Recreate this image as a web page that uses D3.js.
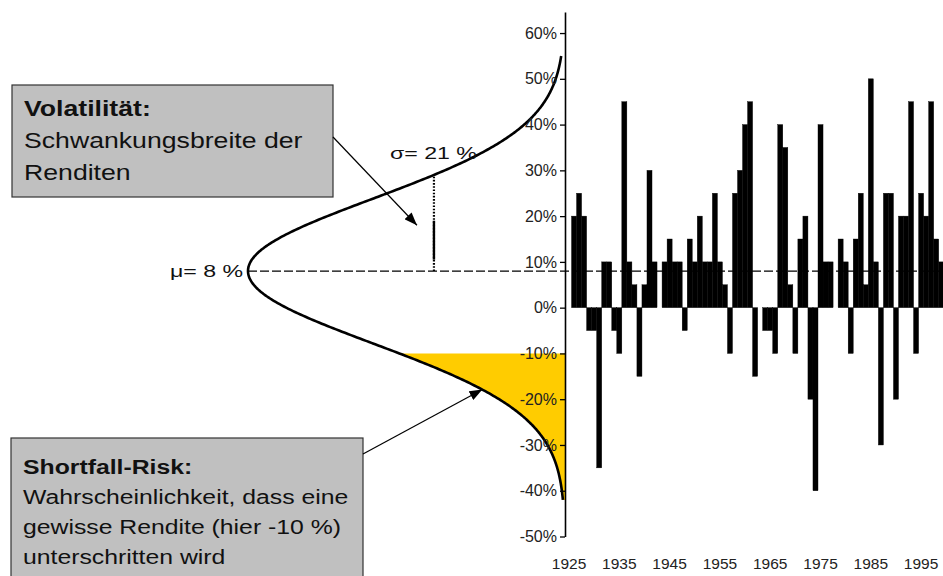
<!DOCTYPE html>
<html><head><meta charset="utf-8">
<script src="https://cdn.jsdelivr.net/npm/d3@7"></script>
<style>html,body{margin:0;padding:0;background:#fff;} svg{display:block;font-family:"Liberation Sans",Arial,sans-serif;}</style>
</head><body>
<svg id="chart" width="943" height="576"></svg>
<script>
// ---------- data ----------
const years = [1925,1926,1927,1928,1929,1930,1931,1932,1933,1934,1935,1936,1937,1938,1939,1940,1941,1942,1943,1944,
  1945,1946,1947,1948,1949,1950,1951,1952,1953,1954,1955,1956,1957,1958,1959,1960,1961,1962,1963,1964,
  1965,1966,1967,1968,1969,1970,1971,1972,1973,1974,1975,1976,1977,1978,1979,1980,1981,1982,1983,1984,
  1985,1986,1987,1988,1989,1990,1991,1992,1993,1994,1995,1996,1997,1998,1999];
const returns = [null,
  20, 25, 20, -5, -5, -35, 10, 10, -5, -10,
  45, 10, 5, -15, 5, 30, 10, 0, 10, 15,
  10, 10, -5, 15, 10, 20, 10, 10, 25, 10,
  5, -10, 25, 30, 40, 45, -15, 0, -5, -5,
  -10, 40, 35, 5, -10, 15, 20, -20, -40, 40,
  10, 10, 0, 15, 10, -10, 15, 25, 5, 50,
  10, -30, 25, 25, -20, 20, 20, 45, -10, 25,
  20, 45, 15, 10];
const yTicks = [-50, -40, -30, -20, -10, 0, 10, 20, 30, 40, 50, 60];
const xLabelYears = [1925, 1935, 1945, 1955, 1965, 1975, 1985, 1995];
const mu = 8;          // mean return (%)
const sigma = 21;      // volatility (%)
const shortfall = -10; // shortfall threshold (%)
const curveSpread = 15.8; // drawn width of the bell curve, in % units
const curveRange = [-42, 55];
const volTitle = "Volatilität:";
const volLines = ["Schwankungsbreite der", "Renditen"];
const sfTitle = "Shortfall-Risk:";
const sfLines = ["Wahrscheinlichkeit, dass eine", "gewisse Rendite (hier -10 %)", "unterschritten wird"];

// ---------- scales ----------
const svg = d3.select("#chart");
const axisX = 565;
const y = d3.scaleLinear().domain([-50, 64.6]).range([536.5, 12]);
const x = d3.scaleBand().domain(years).range([566.5, 943.75]).padding(0);
const dens = v => Math.exp(-((v - mu) ** 2) / (2 * curveSpread ** 2));
const xd = d3.scaleLinear().domain([0, 1]).range([axisX, 248]);
const cx = v => xd(dens(v));

// defs: arrowhead
svg.append("defs").append("marker")
  .attr("id", "arr").attr("viewBox", "0 0 13 10").attr("refX", 13).attr("refY", 5)
  .attr("markerWidth", 13).attr("markerHeight", 10).attr("markerUnits", "userSpaceOnUse")
  .attr("orient", "auto")
  .append("path").attr("d", "M0,0 L13,5 L0,10 Z").attr("fill", "#000");

// ---------- shortfall area ----------
const tail = d3.range(curveRange[0], shortfall + 0.001, 0.25);
svg.append("path")
  .datum(tail)
  .attr("fill", "#FFCC00")
  .attr("d", d3.area().y(d => y(d)).x0(axisX).x1(d => cx(d)));

// ---------- bars ----------
svg.append("g").selectAll("rect")
  .data(years.map((yr, i) => ({ yr, v: returns[i] })).filter(d => d.v !== null))
  .join("rect")
  .attr("x", d => x(d.yr))
  .attr("width", x.bandwidth())
  .attr("y", d => y(Math.max(0, d.v)))
  .attr("height", d => Math.abs(y(d.v) - y(0)))
  .attr("fill", "#000")
  .attr("stroke", "#000").attr("stroke-width", 0.4);

// ---------- mean dashed line ----------
svg.append("line")
  .attr("x1", xd(1)).attr("x2", 943).attr("y1", y(mu)).attr("y2", y(mu))
  .attr("stroke", "#000").attr("stroke-width", 1.3).attr("stroke-dasharray", "9,3");

// ---------- bell curve ----------
const cv = d3.range(curveRange[0], curveRange[1] + 0.001, 0.25);
svg.append("path")
  .datum(cv)
  .attr("fill", "none").attr("stroke", "#000").attr("stroke-width", 2.6)
  .attr("d", d3.line().y(d => y(d)).x(d => cx(d)).curve(d3.curveBasis));

// ---------- sigma marker ----------
const sx = cx(mu + sigma);
svg.append("line")
  .attr("x1", sx).attr("x2", sx).attr("y1", y(mu)).attr("y2", y(mu + sigma))
  .attr("stroke", "#000").attr("stroke-width", 2.2).attr("stroke-dasharray", "1.6,1.6");
svg.append("line")
  .attr("x1", sx).attr("x2", sx).attr("y1", y(10.5)).attr("y2", y(19))
  .attr("stroke", "#000").attr("stroke-width", 2.4);

// ---------- y axis ----------
const yAxis = svg.append("g").attr("transform", `translate(${axisX},0)`)
  .call(d3.axisLeft(y).tickValues(yTicks).tickSize(5).tickSizeOuter(0).tickPadding(3).tickFormat(d => d + "%"));
yAxis.select(".domain").attr("stroke", "#000").attr("stroke-width", 1.6);
yAxis.selectAll(".tick line").attr("stroke", "#000").attr("stroke-width", 1.3);
yAxis.selectAll(".tick text").attr("font-size", 16).attr("fill", "#222")
  .attr("font-family", '"Liberation Sans",Arial,sans-serif');

// ---------- x labels ----------
svg.append("g").selectAll("text").data(xLabelYears).join("text")
  .attr("x", d => x(d) + x.bandwidth() / 2).attr("y", 569)
  .attr("text-anchor", "middle").attr("font-size", 15.5).attr("fill", "#222")
  .text(d => d);

// ---------- annotations ----------
function stretchedText(px, py, str, size, sxScale, opts = {}) {
  const g = svg.append("g").attr("transform", `translate(${px},${py}) scale(${sxScale},1)`);
  return g.append("text").attr("font-size", size).attr("fill", "#111")
    .attr("font-weight", opts.bold ? "bold" : null)
    .attr("text-anchor", opts.anchor || "start").text(str);
}

stretchedText(243, y(mu) + 6, "μ= 8 %", 17, 1.36, { anchor: "end" });
stretchedText(390, 159, "σ= 21 %", 17, 1.36);

// Volatility box
svg.append("rect").attr("x", 12).attr("y", 85).attr("width", 321).attr("height", 112)
  .attr("fill", "#C0C0C0").attr("stroke", "#333").attr("stroke-width", 1.2);
stretchedText(24, 116, volTitle, 21.5, 1.24, { bold: true });
volLines.forEach((t, i) => stretchedText(24, 148 + i * 32, t, 21.5, 1.24));

// Shortfall box
svg.append("rect").attr("x", 11).attr("y", 438).attr("width", 352).attr("height", 150)
  .attr("fill", "#C0C0C0").attr("stroke", "#333").attr("stroke-width", 1.2);
stretchedText(23, 474, sfTitle, 21, 1.18, { bold: true });
sfLines.forEach((t, i) => stretchedText(23, 504 + i * 30, t, 21, 1.18));

// arrows
svg.append("line").attr("x1", 333).attr("y1", 137).attr("x2", sx - 17).attr("y2", y(18))
  .attr("stroke", "#000").attr("stroke-width", 1.2).attr("marker-end", "url(#arr)");
svg.append("line").attr("x1", 363).attr("y1", 454).attr("x2", cx(-17) + 8).attr("y2", y(-17) + 4)
  .attr("stroke", "#000").attr("stroke-width", 1.2).attr("marker-end", "url(#arr)");
</script>
</body></html>
